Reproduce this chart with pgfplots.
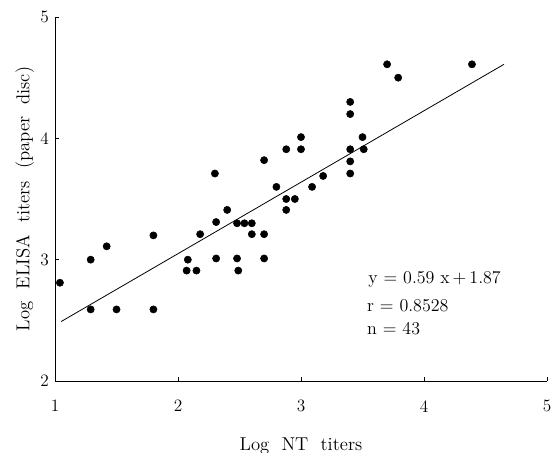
\documentclass[border=0pt]{standalone}
\usepackage{pgfplots}
\pgfplotsset{compat=1.18}

\begin{document}
\begin{tikzpicture}[x=1pt,y=1pt]
\begin{axis}[
    scale only axis,
    width=369pt,
    height=273pt,
    xmin=1, xmax=5,
    ymin=2, ymax=5,
    xtick={1,2,3,4,5},
    ytick={2,3,4,5},
    axis x line=bottom,
    axis y line=left,
    axis line style={-, line width=0.7pt},
    tick style={black, line width=0.6pt},
    tick align=inside,
    major tick length=3pt,
    /pgf/number format/assume math mode=true,
    ticklabel style={font=\fontsize{13}{15}\selectfont},
    xticklabel style={yshift=-11pt},
    yticklabel style={xshift=-1pt},
    xlabel={Log\ \ NT\ \ titers},
    ylabel={Log\ \ ELISA\ \ titers\ \ (paper\ \ disc)},
    label style={font=\fontsize{14}{16}\selectfont},
    xlabel style={yshift=-12pt},
    ylabel style={yshift=-2pt},
    clip=false,
]
% observed pairs
\addplot[only marks, mark=*, mark size=2.7pt, black] coordinates {
    (1.04,2.81) (1.29,3.00) (1.29,2.59) (1.42,3.11) (1.50,2.59)
    (1.80,3.20) (1.80,2.59) (2.08,3.00) (2.07,2.91) (2.15,2.91)
    (2.18,3.21) (2.30,3.71) (2.31,3.31) (2.31,3.01) (2.40,3.41)
    (2.48,3.30) (2.54,3.30) (2.60,3.30) (2.60,3.21) (2.70,3.21)
    (2.48,3.01) (2.49,2.91) (2.70,3.01) (2.70,3.82) (2.80,3.60)
    (2.88,3.91) (2.88,3.50) (2.88,3.41) (2.95,3.50) (3.00,4.01)
    (3.00,3.91) (3.09,3.60) (3.18,3.69) (3.40,4.30) (3.40,4.20)
    (3.40,3.91) (3.40,3.81) (3.40,3.71) (3.50,4.01) (3.51,3.91)
    (3.70,4.61) (3.79,4.50) (4.39,4.61)
};
% fitted line y = 0.59x + 1.87
\addplot[black, line width=0.6pt] coordinates {(1.05,2.49) (4.65,4.61)};

\node[anchor=west, font=\fontsize{13.5}{15}\selectfont] at (axis cs:3.51,2.84) {y = 0.59 x\,+\,1.87};
\node[anchor=west, font=\fontsize{13.5}{15}\selectfont] at (axis cs:3.50,2.62) {r = 0.8528};
\node[anchor=west, font=\fontsize{13.5}{15}\selectfont] at (axis cs:3.50,2.43) {n = 43};

\coordinate (bl) at (rel axis cs:0,0);
\coordinate (tr) at (rel axis cs:1,1);
\end{axis}
\pgfresetboundingbox
\path[use as bounding box] ([shift={(-41.25pt,-53.25pt)}]bl) rectangle ([shift={(4.5pt,12.75pt)}]tr);
\end{tikzpicture}
\end{document}
